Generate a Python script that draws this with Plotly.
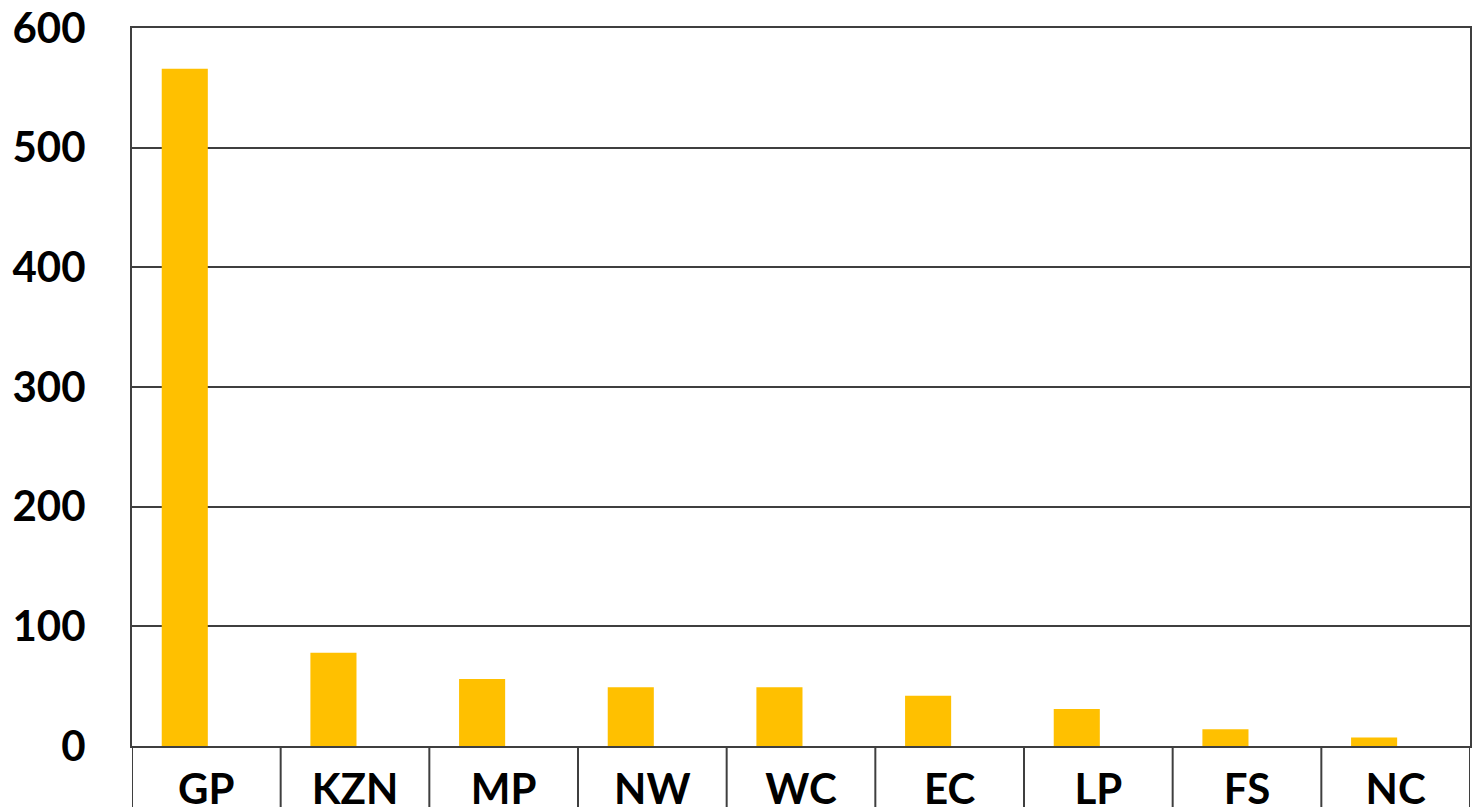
import plotly.graph_objects as go

categories = ["GP", "KZN", "MP", "NW", "WC", "EC", "LP", "FS", "NC"]
values = [566, 78, 56, 49, 49, 42, 31, 14, 7]
y_ticks = [0, 100, 200, 300, 400, 500, 600]

FONT = "Lato, Open Sans, sans-serif"
LINE = "#3f3f3f"

fig = go.Figure()
fig.add_trace(go.Bar(
    x=categories, y=values,
    marker=dict(color="#FFC000", line=dict(width=0)),
    width=0.31, offset=-0.30,
))

# category separators below the axis
for i in range(len(categories) + 1):
    fig.add_shape(type="line", xref="x", yref="paper",
                  x0=i - 0.5, x1=i - 0.5, y0=0, y1=-0.2,
                  line=dict(color=LINE, width=2))

fig.update_layout(
    width=1474, height=807,
    margin=dict(l=132, r=4, t=28, b=61, autoexpand=False),
    paper_bgcolor="white", plot_bgcolor="white",
    showlegend=False,
    font=dict(family=FONT, color="black"),
    xaxis=dict(
        range=[-0.5, len(categories) - 0.5],
        showgrid=False, showline=True, linecolor=LINE, linewidth=2,
        mirror=True, ticks="", automargin=False,
        tickfont=dict(family=FONT, size=42, color="black", weight="bold"),
        ticklabelstandoff=6,
    ),
    yaxis=dict(
        range=[0, 600], tickvals=y_ticks,
        showgrid=True, gridcolor=LINE, gridwidth=2,
        showline=True, linecolor=LINE, linewidth=2, mirror=True,
        zeroline=False, ticks="", automargin=False,
        tickfont=dict(family=FONT, size=42, color="black", weight="bold"),
        ticklabelstandoff=36,
    ),
)

fig.write_html(
    "out.html",
    config={"displayModeBar": False},
    post_script="document.body.style.margin='0';document.body.style.overflow='hidden';",
)
